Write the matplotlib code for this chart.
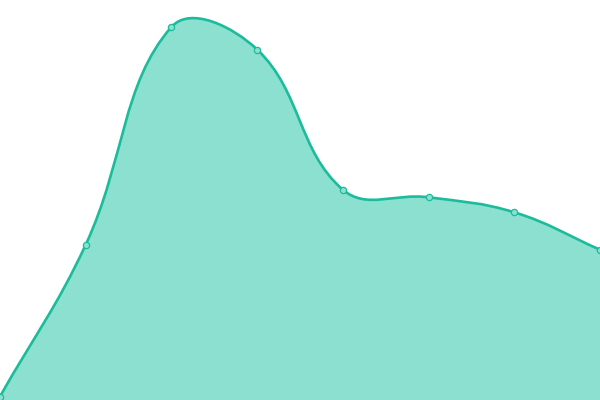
import numpy as np
import matplotlib
matplotlib.use("Agg")
import matplotlib.pyplot as plt
from matplotlib.path import Path
from matplotlib.patches import PathPatch

# values (y axis 0..400)
labels = ["A", "B", "C", "D", "E", "F", "G", "H"]
values = [3.5, 155.3, 373.0, 350.5, 210.3, 202.7, 187.7, 150.3]

line_color = "#1abc9c"
fill_color = "#8ce0cf"
tension = 0.4

fig = plt.figure(figsize=(6, 4), dpi=100)
ax = fig.add_axes([0, 0, 1, 1])
ax.set_xlim(0, len(values) - 1)
ax.set_ylim(0, 400)
ax.axis("off")

x = np.arange(len(values), dtype=float)
y = np.array(values, dtype=float)

# spline control points (chart.js style), distances in pixel space
sx = 600 / (len(values) - 1)
px, py = x * sx, y
n = len(px)
cps = []
for i in range(n):
    pi = max(i - 1, 0)
    ni = min(i + 1, n - 1)
    d01 = np.hypot(px[i] - px[pi], py[i] - py[pi])
    d12 = np.hypot(px[ni] - px[i], py[ni] - py[i])
    tot = d01 + d12
    s01 = d01 / tot if tot else 0
    s12 = d12 / tot if tot else 0
    fa, fb = tension * s01, tension * s12
    dx, dy = px[ni] - px[pi], py[ni] - py[pi]
    prev_cp = (px[i] - fa * dx, py[i] - fa * dy)
    next_cp = (px[i] + fb * dx, py[i] + fb * dy)
    cps.append((prev_cp, next_cp))

verts = [(px[0] / sx, py[0])]
codes = [Path.MOVETO]
for i in range(n - 1):
    c1 = cps[i][1]
    c2 = cps[i + 1][0]
    verts += [(c1[0] / sx, c1[1]), (c2[0] / sx, c2[1]), (px[i + 1] / sx, py[i + 1])]
    codes += [Path.CURVE4] * 3

line_path = Path(verts, codes)
fill_verts = verts + [(x[-1], 0), (x[0], 0), verts[0]]
fill_codes = codes + [Path.LINETO, Path.LINETO, Path.CLOSEPOLY]
fill_path = Path(fill_verts, fill_codes)

ax.add_patch(PathPatch(fill_path, facecolor=fill_color, edgecolor="none"))
ax.add_patch(PathPatch(line_path, facecolor="none", edgecolor=line_color, linewidth=1.9))
ax.plot(x, y, "o", markersize=4.5, markerfacecolor=fill_color,
        markeredgecolor=line_color, markeredgewidth=0.9)

fig.savefig("out.png", dpi=100)
